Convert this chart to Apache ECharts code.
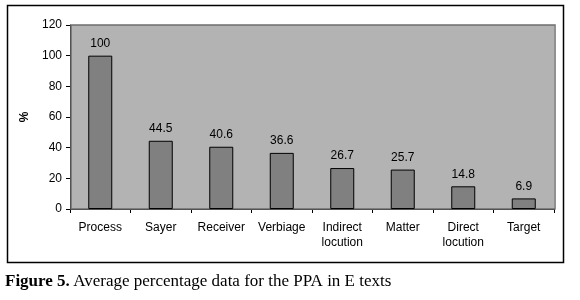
<!DOCTYPE html>
<html>
<head>
<meta charset="utf-8">
<script src="https://cdn.jsdelivr.net/npm/echarts@6/dist/echarts.min.js"></script>
<style>
  html, body { margin: 0; padding: 0; background: #fff; }
  #chart { width: 580px; height: 300px; }
</style>
</head>
<body>
<div id="chart"></div>
<script>
// 类目与数值
var categories = ['Process', 'Sayer', 'Receiver', 'Verbiage', 'Indirect\nlocution', 'Matter', 'Direct\nlocution', 'Target']
var values = [100, 44.5, 40.6, 36.6, 26.7, 25.7, 14.8, 6.9]
var yTicks = [0, 20, 40, 60, 80, 100, 120]

var myChart = echarts.init(document.getElementById('chart'))
var option = {
  animation: false,
  textStyle: { fontFamily: 'Liberation Sans, Arial, sans-serif' },
  graphic: [
    {
      type: 'rect',
      shape: { x: 7.5, y: 5.5, width: 556, height: 257 },
      style: { fill: 'none', stroke: '#000', lineWidth: 1.5 },
      z: 0
    },
    {
      type: 'rect',
      shape: { x: 71, y: 25, width: 484, height: 184 },
      style: { fill: 'none', stroke: '#6e6e6e', lineWidth: 1.5 },
      z: 1
    },
    {
      type: 'text',
      left: 5,
      top: 273,
      style: {
        rich: {
          b: { fontFamily: 'Liberation Serif, serif', fontSize: 17, fontWeight: 'bold', fill: '#000' },
          n: { fontFamily: 'Liberation Serif, serif', fontSize: 17, fill: '#000' }
        },
        text: '{b|Figure 5.} {n|Average percentage data for the PPA in E texts}'
      }
    }
  ],
  grid: {
    left: 70,
    right: 26,
    top: 25,
    bottom: 91,
    show: true,
    backgroundColor: '#b3b3b3',
    borderColor: '#b3b3b3',
    borderWidth: 0
  },
  xAxis: {
    type: 'category',
    data: categories,
    axisLine: { show: true, lineStyle: { color: '#000', width: 1 } },
    axisTick: { show: true, alignWithLabel: false, length: 4, lineStyle: { color: '#000' } },
    axisLabel: { color: '#000', fontSize: 12, margin: 11, lineHeight: 15, interval: 0 }
  },
  yAxis: {
    type: 'value',
    min: 0,
    max: 120,
    interval: 20,
    name: '%',
    nameLocation: 'middle',
    nameGap: 38,
    nameRotate: 90,
    nameTextStyle: { color: '#000', fontSize: 12, fontWeight: 'bold' },
    axisLine: { show: true, lineStyle: { color: '#000', width: 1 } },
    axisTick: { show: true, length: 4, lineStyle: { color: '#000' } },
    axisLabel: { color: '#000', fontSize: 12, margin: 8 },
    splitLine: { show: false }
  },
  series: [
    {
      type: 'bar',
      data: values,
      barWidth: 24,
      itemStyle: { color: '#808080', borderColor: '#000', borderWidth: 1 },
      label: { show: true, position: 'top', color: '#000', fontSize: 12, distance: 6 }
    }
  ]
}
myChart.setOption(option)
</script>
</body>
</html>
